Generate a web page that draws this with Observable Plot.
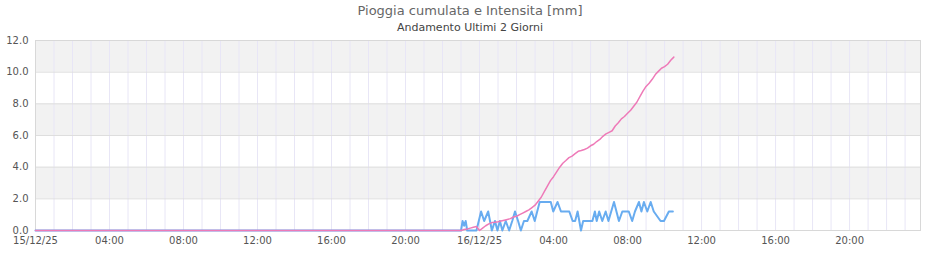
<!DOCTYPE html>
<html><head><meta charset="utf-8">
<script src="https://cdn.jsdelivr.net/npm/d3@7"></script>
<script src="https://cdn.jsdelivr.net/npm/@observablehq/plot@0.6"></script>
<style>
body{margin:0;background:#fff;font-family:"DejaVu Sans",sans-serif;}
#head{position:relative;width:940px;height:35px;}
#head .t{position:absolute;left:0;width:940px;top:3px;text-align:center;font-size:13px;line-height:16px;color:#666;}
#head .s{position:absolute;left:0;width:940px;top:21px;text-align:center;font-size:11px;line-height:13px;color:#444;}
</style></head><body>
<div id="head">
  <div class="t">Pioggia cumulata e Intensita [mm]</div>
  <div class="s">Andamento Ultimi 2 Giorni</div>
</div>
<div id="chart"></div>
<script>
// time axis: minutes relative to 16/12/25 00:00 (UTC used for display)
const startISO = "2025-12-15T00:00:00Z";
const endISO = "2025-12-16T23:50:00Z";
const refISO = "2025-12-16T00:00:00Z";

// Intensita [mm/h] - minutes from 16/12 00:00
const intensMin = [-1440,-60,-55,-50,-45,-40,-10,5,15,28,40,50,58,66,74,85,96,106,115,125,134,144,155,169,179,195,231,239,253,264,291,302,310,318,329,336,366,374,380,388,398,409,418,436,452,463,484,495,504,517,525,533,544,555,565,587,598,614,627];
const intensVal = [0,0,0.6,0.3,0.6,0,0,1.2,0.6,1.2,0,0.6,0,0.6,0,0.6,0,0.6,1.2,0.6,0,0.6,0.6,1.2,0.6,1.8,1.8,1.2,1.8,1.2,1.2,0.6,0.6,1.2,0,0.6,0.6,1.2,0.6,1.2,0.6,1.2,0.6,1.8,0.6,1.2,1.2,0.6,1.2,1.8,1.2,1.8,1.2,1.8,1.2,0.6,0.6,1.2,1.2];

// Pioggia cumulata [mm] (daily, resets at midnight)
const cumMin = [-1440,-60,-50,-40,-30,-20,-10,0,10,20,30,40,50,60,70,80,90,100,110,120,130,140,150,160,170,180,190,200,210,220,230,240,250,260,270,280,290,300,310,320,330,340,350,360,370,380,390,400,410,420,430,440,450,460,470,480,490,500,510,520,530,540,550,560,570,580,590,600,610,620,630];
const cumVal = [0,0,0.06,0.1,0.15,0.2,0.25,0,0.15,0.3,0.42,0.5,0.52,0.55,0.6,0.65,0.7,0.75,0.85,0.9,1.0,1.1,1.2,1.3,1.45,1.6,1.85,2.1,2.45,2.8,3.15,3.4,3.7,4.0,4.25,4.42,4.6,4.7,4.85,5.0,5.05,5.12,5.2,5.35,5.45,5.62,5.75,5.95,6.1,6.2,6.3,6.6,6.8,7.05,7.2,7.4,7.6,7.85,8.1,8.45,8.8,9.1,9.3,9.55,9.85,10.05,10.25,10.35,10.5,10.75,10.95];

const yTicks = [0,2,4,6,8,10,12];
const bandLo = [2,6,10];
const bandHi = [4,8,12];

const start = new Date(startISO), end = new Date(endISO), ref = new Date(refISO);
const toDate = m => new Date(ref.getTime() + m*60000);
const intens = intensMin.map((m,i)=>({t:toDate(m), v:intensVal[i]}));
const cum = cumMin.map((m,i)=>({t:toDate(m), v:cumVal[i]}));
const bands = bandLo.map((lo,i)=>({lo, hi:bandHi[i]}));
const xTicks = d3.utcHour.every(4).range(start, end);
const hours = d3.utcHour.range(d3.utcHour.offset(start,1), end);
const fmtDay = d3.utcFormat("%d/%m/%y"), fmtHr = d3.utcFormat("%H:%M");
const xFmt = d => (d.getUTCHours()===0 ? fmtDay(d) : fmtHr(d));

const chart = Plot.plot({
  width: 940, height: 225,
  marginTop: 5, marginBottom: 30, marginLeft: 35, marginRight: 20,
  style: {fontFamily: "DejaVu Sans, sans-serif", fontSize: "10px", color: "#555", background: "#fff"},
  x: {type: "utc", domain: [start, end]},
  y: {domain: [0, 12]},
  marks: [
    Plot.rect(bands, {x1: () => start, x2: () => end, y1: "lo", y2: "hi", fill: "#f2f2f2"}),
    Plot.ruleX(hours, {stroke: "#e8e6f6", strokeWidth: 1}),
    Plot.ruleY([2,4,6,8,10], {stroke: "#dedede", strokeWidth: 1}),
    Plot.frame({stroke: "#d8d8d8"}),
    Plot.axisX({ticks: xTicks, tickFormat: xFmt, tickSize: 0, tickPadding: 6, fontSize: 10, label: null}),
    Plot.axisY({ticks: yTicks, tickFormat: d3.format(".1f"), tickSize: 0, tickPadding: 7, fontSize: 10, label: null}),
    Plot.line(intens, {x: "t", y: "v", stroke: "#68acf0", strokeWidth: 2}),
    Plot.line(cum, {x: "t", y: "v", stroke: "#ee7ab8", strokeWidth: 1.5})
  ]
});
document.getElementById("chart").appendChild(chart);
</script>
</body></html>
